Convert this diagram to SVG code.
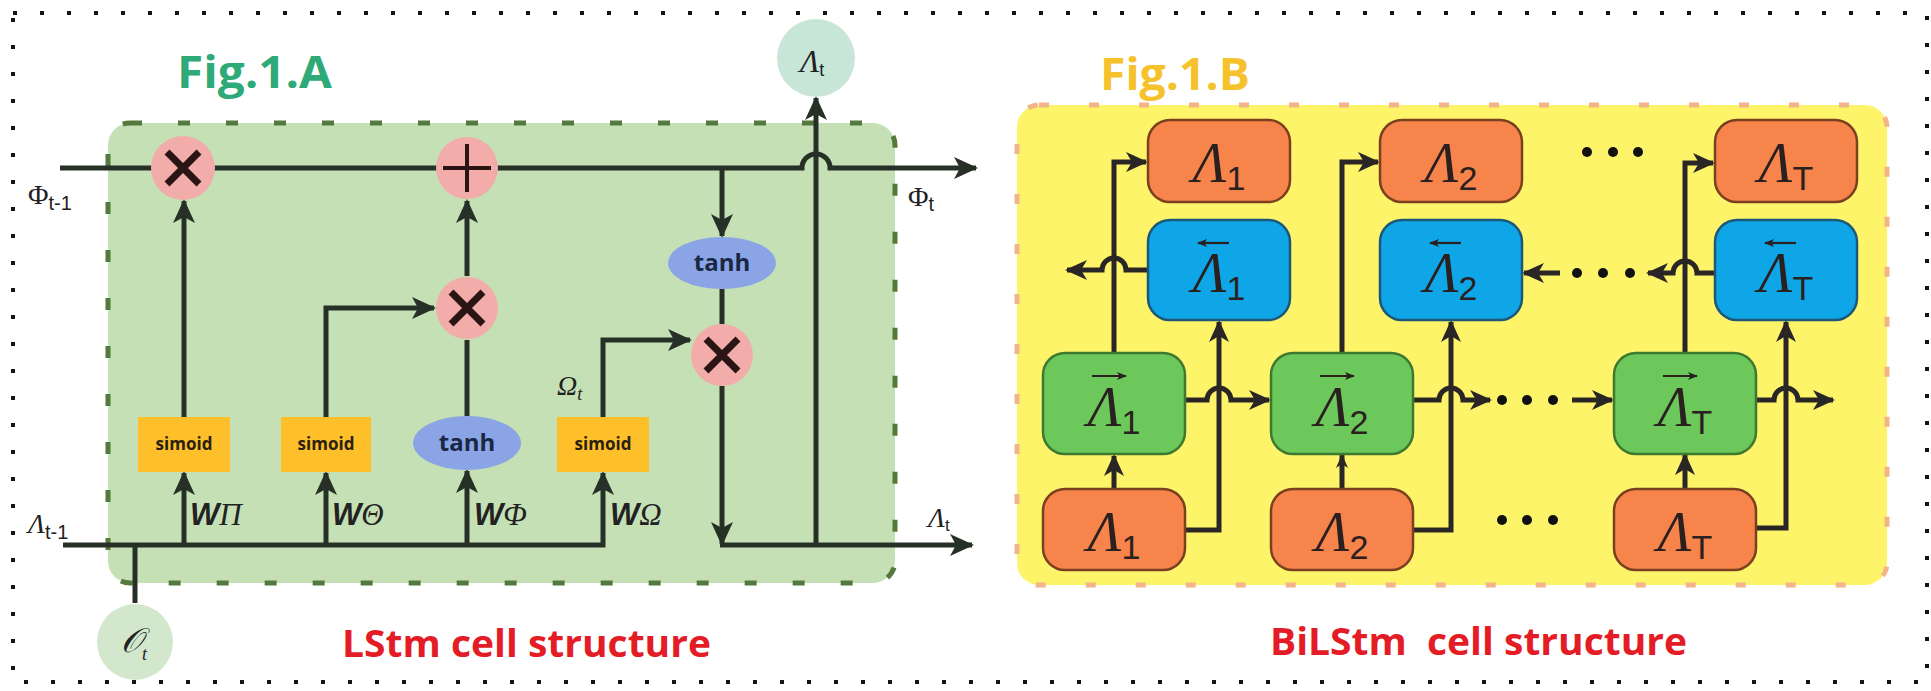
<svg xmlns="http://www.w3.org/2000/svg" width="1931" height="691" viewBox="0 0 1931 691">
<defs>
<style>
.ln{fill:none;stroke:#263026;stroke-width:5;stroke-linejoin:miter}
.bl{fill:none;stroke:#2b2626;stroke-width:5;stroke-linejoin:miter}
.va{fill:none;stroke:#2a2020;stroke-width:2.2}
.pink{fill:#f2adab}
.xm{stroke:#2a1414;stroke-width:7;stroke-linecap:butt}
.pl{stroke:#2a1414;stroke-width:4}
.sim{fill:#fdbf2a}
.simt{font-family:"Open Sans","Liberation Sans",sans-serif;font-weight:bold;font-size:17px;fill:#2a2010;text-anchor:middle}
.tanh{fill:#8aa4e6}
.tanht{font-family:"Open Sans","Liberation Sans",sans-serif;font-weight:bold;font-size:24px;fill:#1a2745;text-anchor:middle}
.w{font-family:"Liberation Sans",sans-serif;font-weight:bold;font-style:italic;font-size:31px;fill:#222}
.gr{font-family:"Liberation Serif",serif;font-style:italic;fill:#222}
.sb{font-family:"Liberation Sans",sans-serif;font-style:normal}
.org{fill:#f7844a;stroke:#7a4020;stroke-width:2.5}
.blu{fill:#0fa6e8;stroke:#1d5878;stroke-width:2.5}
.grn{fill:#6cc85a;stroke:#3d7a30;stroke-width:2.5}
.lam{font-family:"Liberation Serif",serif;font-style:italic;font-size:56px;fill:#2a2020;text-anchor:middle}
.lsub{font-family:"Liberation Sans",sans-serif;font-style:normal;font-size:34px}
.title{font-family:"Open Sans","Noto Sans",sans-serif;font-weight:bold}
.dot{fill:#111}
</style>
<marker id="ah" markerUnits="userSpaceOnUse" markerWidth="24" markerHeight="24" viewBox="0 0 24 24" refX="22" refY="12" orient="auto"><path d="M0,1 L24,12 L0,23 L6,12 z" fill="#263026"/></marker>
<marker id="ab" markerUnits="userSpaceOnUse" markerWidth="22" markerHeight="22" viewBox="0 0 22 22" refX="20" refY="11" orient="auto"><path d="M0,1 L22,11 L0,21 L6,11 z" fill="#2b2626"/></marker>
<marker id="at" markerUnits="userSpaceOnUse" markerWidth="14" markerHeight="14" viewBox="0 0 14 14" refX="13" refY="7" orient="auto"><path d="M0,1 L14,7 L0,13 L4,7 z" fill="#2b2626"/></marker>
<marker id="av" markerUnits="userSpaceOnUse" markerWidth="10" markerHeight="10" viewBox="0 0 10 10" refX="9" refY="5" orient="auto"><path d="M0,1 L10,5 L0,9 L2.5,5 z" fill="#2a2020"/></marker>
</defs>
<rect width="1931" height="691" fill="#ffffff"/>
<rect x="13" y="13" width="1914" height="669" fill="none" stroke="#151515" stroke-width="4" stroke-dasharray="4 23"/>

<!-- Fig 1.A panel -->
<g id="panelA">
<rect x="108" y="123" width="787" height="460" rx="22" fill="#c5e0b4" stroke="#55783c" stroke-width="5" stroke-dasharray="12 36"/>
<text class="title" x="177" y="88" font-size="44" fill="#2eaa78" textLength="155" lengthAdjust="spacingAndGlyphs">Fig.1.A</text>
</g>

<!-- Fig 1.B panel -->
<g id="panelB">
<rect x="1017" y="105" width="870" height="480" rx="22" fill="#fdf46a" stroke="#f3b48a" stroke-width="5" stroke-dasharray="10 40"/>
<text class="title" x="1100" y="90" font-size="44" fill="#f5c22c" textLength="150" lengthAdjust="spacingAndGlyphs">Fig.1.B</text>
</g>

<!-- connectors -->
<g id="connectors">
<path class="ln" d="M60 168 H802 A14 14 0 0 1 830 168 H976" marker-end="url(#ah)"/>
<path class="ln" d="M722 168 V236" marker-end="url(#ah)"/>
<path class="ln" d="M722 289 V324"/>
<path class="ln" d="M722 386 V544" marker-end="url(#ah)"/>
<path class="ln" d="M720 545 H972" marker-end="url(#ah)"/>
<path class="ln" d="M816 545 V98" marker-end="url(#ah)"/>
<path class="ln" d="M63 545 H603 V473" marker-end="url(#ah)"/>
<path class="ln" d="M603 417 V340 H690" marker-end="url(#ah)"/>
<path class="ln" d="M184 545 V473" marker-end="url(#ah)"/>
<path class="ln" d="M326 545 V473" marker-end="url(#ah)"/>
<path class="ln" d="M467 545 V471" marker-end="url(#ah)"/>
<path class="ln" d="M184 417 V201" marker-end="url(#ah)"/>
<path class="ln" d="M326 417 V308 H434" marker-end="url(#ah)"/>
<path class="ln" d="M467 416 V340"/>
<path class="ln" d="M467 276 V201" marker-end="url(#ah)"/>
<path class="ln" d="M135 545 V603"/>

<path class="bl" d="M1114 353 V162 H1146" marker-end="url(#ab)"/>
<path class="bl" d="M1114 489 V456" marker-end="url(#ab)"/>
<path class="bl" d="M1185 530 H1219 V322" marker-end="url(#ab)"/>
<path class="bl" d="M1185 400 H1207 A12 12 0 0 1 1231 400 H1269" marker-end="url(#ab)"/>
<path class="bl" d="M1148 270 H1126 A12 12 0 0 0 1102 270 H1067" marker-end="url(#ab)"/>
<path class="bl" d="M1342 353 V162 H1378" marker-end="url(#ab)"/>
<path class="bl" d="M1342 489 V455" stroke-width="2" marker-end="url(#at)"/>
<path class="bl" d="M1413 530 H1451 V322" marker-end="url(#ab)"/>
<path class="bl" d="M1413 400 H1439 A12 12 0 0 1 1463 400 H1490" marker-end="url(#ab)"/>
<path class="bl" d="M1572 400 H1612" marker-end="url(#ab)"/>
<path class="bl" d="M1685 353 V163 H1713" marker-end="url(#ab)"/>
<path class="bl" d="M1685 489 V455" marker-end="url(#ab)"/>
<path class="bl" d="M1756 528 H1786 V322" marker-end="url(#ab)"/>
<path class="bl" d="M1756 400 H1774 A12 12 0 0 1 1798 400 H1833" marker-end="url(#ab)"/>
<path class="bl" d="M1715 273 H1697 A12 12 0 0 0 1673 273 H1648" marker-end="url(#ab)"/>
<path class="bl" d="M1560 273 H1524" marker-end="url(#ab)"/>
<circle class="dot" cx="1502" cy="400" r="5"/><circle class="dot" cx="1527" cy="400" r="5"/><circle class="dot" cx="1553" cy="400" r="5"/>
<circle class="dot" cx="1502" cy="520" r="5"/><circle class="dot" cx="1527" cy="520" r="5"/><circle class="dot" cx="1553" cy="520" r="5"/>
<circle class="dot" cx="1577" cy="273" r="5"/><circle class="dot" cx="1603" cy="273" r="5"/><circle class="dot" cx="1630" cy="273" r="5"/>
<circle class="dot" cx="1587" cy="152" r="5"/><circle class="dot" cx="1613" cy="152" r="5"/><circle class="dot" cx="1638" cy="152" r="5"/>
</g>

<!-- LSTM nodes -->
<g id="mul1"><circle class="pink" cx="183" cy="168" r="32"/><path class="xm" d="M167 152 L199 184 M199 152 L167 184"/></g>
<g id="add1"><circle class="pink" cx="467" cy="168" r="31"/><path class="pl" d="M443 168 H491 M467 144 V192"/></g>
<g id="mul2"><circle class="pink" cx="467" cy="308" r="31"/><path class="xm" d="M451 292 L483 324 M483 292 L451 324"/></g>
<g id="mul3"><circle class="pink" cx="722" cy="355" r="31"/><path class="xm" d="M706 339 L738 371 M738 339 L706 371"/></g>
<g id="tanhTop"><ellipse class="tanh" cx="722" cy="263" rx="54" ry="26"/><text class="tanht" x="722" y="271">tanh</text></g>
<g id="tanhLow"><ellipse class="tanh" cx="467" cy="443" rx="54" ry="27"/><text class="tanht" x="467" y="451">tanh</text></g>
<g id="sig1"><rect class="sim" x="138" y="417" width="92" height="55"/><text class="simt" x="184" y="450">simoid</text></g>
<g id="sig2"><rect class="sim" x="281" y="417" width="90" height="55"/><text class="simt" x="326" y="450">simoid</text></g>
<g id="sig3"><rect class="sim" x="557" y="417" width="92" height="55"/><text class="simt" x="603" y="450">simoid</text></g>
<g id="outCircle"><circle cx="816" cy="58" r="39" fill="#c8e6d8"/><text class="gr" x="800" y="72" font-size="32">Λ<tspan class="sb" font-size="18" dy="4">t</tspan></text></g>
<g id="inCircle"><circle cx="135" cy="642" r="38" fill="#d3e7cd"/><text class="gr" x="121" y="652" font-size="34">𝒪<tspan font-size="18" dy="8">t</tspan></text></g>

<g id="labelsA">
<text class="w" x="190" y="525">W<tspan class="gr" font-weight="normal">Π</tspan></text>
<text class="w" x="332" y="525">W<tspan class="gr" font-weight="normal">Θ</tspan></text>
<text class="w" x="474" y="525">W<tspan class="gr" font-weight="normal">Φ</tspan></text>
<text class="w" x="610" y="525">W<tspan class="gr" font-weight="normal">Ω</tspan></text>
<text class="gr" x="557" y="395" font-size="28">Ω<tspan font-size="18" dy="5">t</tspan></text>
<text class="gr" x="28" y="533" font-size="28">Λ<tspan class="sb" font-size="20" dy="6">t-1</tspan></text>
<text class="gr" x="928" y="527" font-size="28">Λ<tspan class="sb" font-size="17" dy="4">t</tspan></text>
<text x="28" y="204" font-family="Liberation Serif,serif" font-size="28" fill="#222">Φ<tspan font-family="Liberation Sans,sans-serif" font-size="20" dy="6">t-1</tspan></text>
<text x="908" y="206" font-family="Liberation Serif,serif" font-size="28" fill="#222">Φ<tspan font-family="Liberation Sans,sans-serif" font-size="20" dy="5">t</tspan></text>
<text class="title" x="342" y="657" font-size="38" fill="#e31c25" textLength="369" lengthAdjust="spacingAndGlyphs">LStm cell structure</text>
</g>

<!-- BiLSTM nodes -->
<g id="T1"><rect class="org" x="1148" y="120" width="142" height="82" rx="22"/><text class="lam" x="1219" y="182">Λ<tspan class="lsub" dy="8">1</tspan></text></g>
<g id="U1"><rect class="blu" x="1148" y="220" width="142" height="100" rx="22"/><path class="va" d="M1229 243 H1198" marker-end="url(#av)"/><text class="lam" x="1219" y="292">Λ<tspan class="lsub" dy="8">1</tspan></text></g>
<g id="G1"><rect class="grn" x="1043" y="353" width="142" height="101" rx="22"/><path class="va" d="M1092 376 H1126" marker-end="url(#av)"/><text class="lam" x="1114" y="426">Λ<tspan class="lsub" dy="8">1</tspan></text></g>
<g id="B1"><rect class="org" x="1043" y="489" width="142" height="81" rx="22"/><text class="lam" x="1114" y="551">Λ<tspan class="lsub" dy="8">1</tspan></text></g>

<g id="T2"><rect class="org" x="1380" y="120" width="142" height="82" rx="22"/><text class="lam" x="1451" y="182">Λ<tspan class="lsub" dy="8">2</tspan></text></g>
<g id="U2"><rect class="blu" x="1380" y="220" width="142" height="100" rx="22"/><path class="va" d="M1461 243 H1430" marker-end="url(#av)"/><text class="lam" x="1451" y="292">Λ<tspan class="lsub" dy="8">2</tspan></text></g>
<g id="G2"><rect class="grn" x="1271" y="353" width="142" height="101" rx="22"/><path class="va" d="M1320 376 H1354" marker-end="url(#av)"/><text class="lam" x="1342" y="426">Λ<tspan class="lsub" dy="8">2</tspan></text></g>
<g id="B2"><rect class="org" x="1271" y="489" width="142" height="81" rx="22"/><text class="lam" x="1342" y="551">Λ<tspan class="lsub" dy="8">2</tspan></text></g>

<g id="TT"><rect class="org" x="1715" y="120" width="142" height="82" rx="22"/><text class="lam" x="1786" y="182">Λ<tspan class="lsub" dy="8">T</tspan></text></g>
<g id="UT"><rect class="blu" x="1715" y="220" width="142" height="100" rx="22"/><path class="va" d="M1796 243 H1765" marker-end="url(#av)"/><text class="lam" x="1786" y="292">Λ<tspan class="lsub" dy="8">T</tspan></text></g>
<g id="GT"><rect class="grn" x="1614" y="353" width="142" height="101" rx="22"/><path class="va" d="M1663 376 H1697" marker-end="url(#av)"/><text class="lam" x="1685" y="426">Λ<tspan class="lsub" dy="8">T</tspan></text></g>
<g id="BT"><rect class="org" x="1614" y="489" width="142" height="81" rx="22"/><text class="lam" x="1685" y="551">Λ<tspan class="lsub" dy="8">T</tspan></text></g>

<text class="title" x="1270" y="655" font-size="38" fill="#e31c25" xml:space="preserve" textLength="417" lengthAdjust="spacingAndGlyphs">BiLStm  cell structure</text>
</svg>
